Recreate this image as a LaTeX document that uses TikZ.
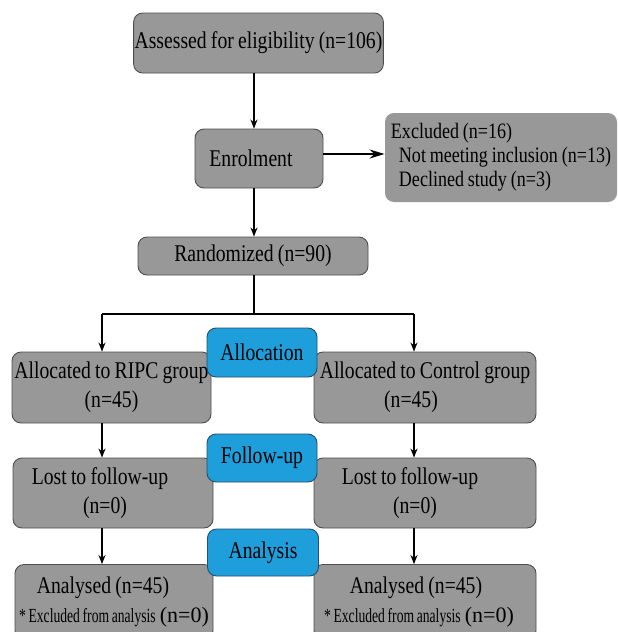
\documentclass[tikz,border=0pt]{standalone}
\usepackage{fontspec}
\setmainfont{Liberation Serif}[FakeStretch=0.82,WordSpace=0.85]
\newfontfamily\narrowfont{Liberation Serif}[FakeStretch=0.68,WordSpace=0.8]
\newfontfamily\plainfont{Liberation Serif}
\usetikzlibrary{arrows.meta,positioning}
\definecolor{boxgray}{RGB}{152,152,152}
\definecolor{boxline}{RGB}{78,78,78}
\definecolor{stageblue}{RGB}{30,158,218}
\definecolor{stageline}{RGB}{40,78,105}
\tikzset{
  box/.style   ={rectangle,rounded corners=9pt,draw=boxline,fill=boxgray,line width=0.9pt,inner xsep=1pt,inner ysep=2pt,align=center,font=\fontsize{24}{29}\selectfont},
  stage/.style ={box,draw=stageline,fill=stageblue},
  flow/.style  ={black,line width=1.3pt,-{Stealth[length=9pt,width=7pt]}},
  sideflow/.style={black,line width=1.8pt,-{Stealth[length=15pt,width=9pt]}},
  trunk/.style ={black,line width=2.4pt},
}

\begin{document}
\begin{tikzpicture}[x=1pt,y=-1pt]
  \clip (0,0) rectangle (618,632);
  \coordinate (mid) at (254,0);
  \coordinate (bl) at (102,314);  \coordinate (br) at (414,314);
  \coordinate (side) at (323,154);
  % top part
  \node[box,minimum width=249pt,minimum height=60pt](assess) at (258.5,43){Assessed for eligibility (n=106)};
  \node[box,minimum width=128pt,minimum height=59pt](enrol) at (259,158.5){Enrolment\hspace*{16pt}};
  \node[box,draw=none,minimum width=232pt,minimum height=89pt,align=left,font=\fontsize{22}{24}\selectfont](excl) at (501,157.5)
    {Excluded (n=16)\\\hspace*{8pt}Not meeting inclusion (n=13)\hspace*{7pt}\\\hspace*{8pt}Declined study (n=3)};
  \node[box,minimum width=230pt,minimum height=38pt](rand) at (253,256){Randomized (n=90)};
  % two arms
  \node[box,minimum width=199pt,minimum height=71pt](ripc) at (111.5,387.5){Allocated to RIPC group\\(n=45)};
  \node[box,minimum width=222pt,minimum height=71pt](ctrl) at (425,387.5){Allocated to Control group\\(n=45)\hspace*{28pt}};
  \node[box,minimum width=200pt,minimum height=70pt](lostL) at (113,493){Lost to follow-up\hspace*{26pt}\\(n=0)\hspace*{16pt}};
  \node[box,minimum width=222pt,minimum height=70pt](lostR) at (425,493){Lost to follow-up\hspace*{30pt}\\(n=0)\hspace*{20pt}};
  \node[box,minimum width=198pt,minimum height=75pt](anaL) at (114,602)
    {Analysed (n=45)\hspace*{22pt}\\{\narrowfont\fontsize{20}{24}\selectfont * Excluded from analysis} {\plainfont\fontsize{22}{24}\selectfont (n=0)}};
  \node[box,minimum width=222pt,minimum height=75pt](anaR) at (425,602)
    {Analysed (n=45)\hspace*{18pt}\\{\narrowfont\fontsize{20}{24}\selectfont * Excluded from analysis} {\plainfont\fontsize{22}{24}\selectfont (n=0)}\hspace*{12pt}};
  % stage labels
  \node[stage,minimum width=110pt,minimum height=49pt](alloc) at (262,352.5){Allocation};
  \node[stage,minimum width=110pt,minimum height=48pt](follow) at (262,458){Follow-up};
  \node[stage,minimum width=111pt,minimum height=47pt](analys) at (263,552.5){Analysis};
  % connectors
  \draw[flow](assess.south -| mid)--(enrol.north -| mid);
  \draw[sideflow](side)--(side -| excl.west);
  \draw[flow](enrol.south -| mid)--(rand.north -| mid);
  \draw[trunk](rand.south -| mid)--(bl -| mid);
  \draw[trunk](bl)--(br);
  \draw[flow](bl)--(bl |- ripc.north);
  \draw[flow](br)--(br |- ctrl.north);
  \draw[flow](ripc.south -| bl)--(lostL.north -| bl);
  \draw[flow](ctrl.south -| br)--(lostR.north -| br);
  \draw[flow](lostL.south -| bl)--(anaL.north -| bl);
  \draw[flow](lostR.south -| br)--(anaR.north -| br);
\end{tikzpicture}
\end{document}
